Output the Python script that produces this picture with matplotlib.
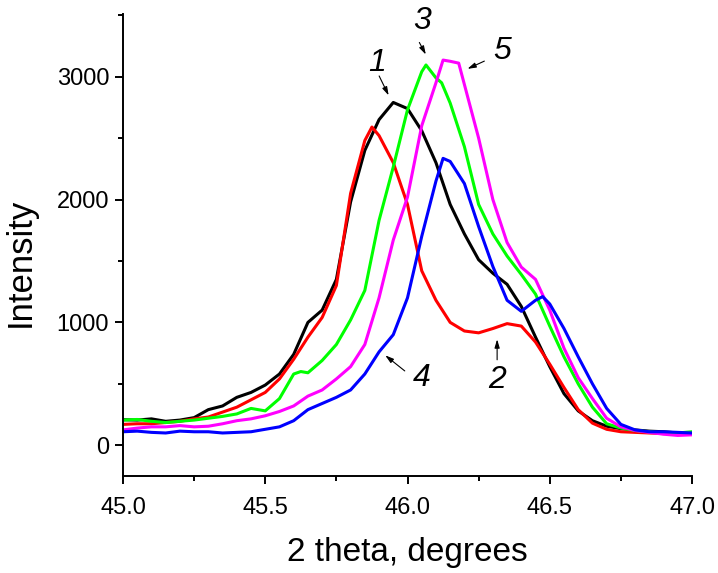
import matplotlib
matplotlib.use("Agg")
import matplotlib.pyplot as plt
from matplotlib.ticker import MultipleLocator

plt.rcParams['font.family'] = ['Liberation Sans', 'DejaVu Sans']

# Data
x1 = [45.00, 45.05, 45.10, 45.15, 45.20, 45.25, 45.30, 45.35, 45.40, 45.45,
      45.50, 45.55, 45.60, 45.65, 45.70, 45.75, 45.80, 45.85, 45.90, 45.95,
      46.00, 46.05, 46.10, 46.15, 46.20, 46.25, 46.30, 46.35, 46.40, 46.45,
      46.50, 46.55, 46.60, 46.65, 46.70, 46.75, 46.80, 46.85, 46.90, 46.95, 47.00]
y1 = [208, 205, 215, 195, 205, 225, 290, 320, 390, 430,
      490, 580, 740, 1000, 1100, 1350, 1980, 2400, 2650, 2790,
      2740, 2560, 2300, 1960, 1720, 1510, 1400, 1310, 1130, 880,
      640, 420, 280, 200, 155, 135, 125, 115, 110, 100, 100]

x2 = [45.00, 45.05, 45.10, 45.15, 45.20, 45.25, 45.30, 45.35, 45.40, 45.45,
      45.50, 45.55, 45.60, 45.65, 45.70, 45.75, 45.80, 45.85, 45.875, 45.90,
      45.95, 46.00, 46.05, 46.10, 46.15, 46.20, 46.25, 46.30, 46.35, 46.40,
      46.45, 46.50, 46.55, 46.60, 46.65, 46.70, 46.75, 46.80, 46.85, 46.90,
      46.95, 47.00]
y2 = [170, 175, 175, 185, 195, 215, 230, 270, 310, 370,
      430, 540, 700, 880, 1040, 1300, 2050, 2480, 2590, 2520,
      2300, 1960, 1420, 1180, 1000, 930, 915, 950, 990, 970,
      840, 660, 470, 290, 180, 130, 110, 105, 100, 95,
      95, 90]

x3 = [45.00, 45.05, 45.10, 45.15, 45.20, 45.25, 45.30, 45.35, 45.40, 45.45,
      45.50, 45.55, 45.60, 45.625, 45.65, 45.70, 45.75, 45.80, 45.85, 45.90,
      45.95, 46.00, 46.05, 46.065, 46.10, 46.12, 46.15, 46.20, 46.25, 46.30,
      46.35, 46.40, 46.45, 46.50, 46.55, 46.60, 46.65, 46.70, 46.75, 46.80,
      46.85, 46.90, 46.95, 47.00]
y3 = [205, 210, 195, 185, 195, 205, 220, 235, 255, 300,
      280, 380, 580, 600, 590, 690, 820, 1020, 1260, 1830,
      2265, 2730, 3040, 3095, 2990, 2950, 2785, 2430, 1960, 1720,
      1540, 1390, 1230, 970, 720, 500, 310, 175, 140, 120,
      110, 100, 100, 110]

x4 = [45.00, 45.05, 45.10, 45.15, 45.20, 45.25, 45.30, 45.35, 45.40, 45.45,
      45.50, 45.55, 45.60, 45.65, 45.70, 45.75, 45.80, 45.85, 45.90, 45.95,
      46.00, 46.05, 46.10, 46.125, 46.15, 46.20, 46.25, 46.30, 46.35, 46.40,
      46.45, 46.475, 46.50, 46.55, 46.60, 46.65, 46.70, 46.75, 46.80, 46.85,
      46.90, 46.95, 47.00]
y4 = [110, 115, 105, 100, 115, 110, 110, 100, 105, 110,
      130, 150, 200, 290, 340, 390, 450, 580, 760, 900,
      1200, 1700, 2150, 2335, 2310, 2130, 1780, 1455, 1180, 1090,
      1180, 1210, 1150, 950, 720, 500, 300, 170, 125, 110,
      110, 105, 100]

x5 = [45.00, 45.05, 45.10, 45.15, 45.20, 45.25, 45.30, 45.35, 45.40, 45.45,
      45.50, 45.55, 45.60, 45.65, 45.70, 45.75, 45.80, 45.85, 45.90, 45.95,
      46.00, 46.05, 46.10, 46.125, 46.15, 46.18, 46.25, 46.30, 46.35, 46.40,
      46.45, 46.50, 46.55, 46.60, 46.65, 46.70, 46.75, 46.80, 46.85, 46.90,
      46.95, 47.00]
y5 = [125, 140, 150, 150, 160, 150, 155, 175, 200, 215,
      240, 275, 320, 400, 450, 540, 640, 820, 1200, 1670,
      2020, 2600, 2950, 3135, 3125, 3110, 2500, 2000, 1650, 1450,
      1350, 1100, 790, 550, 380, 220, 150, 120, 105, 90,
      80, 85]

# curve number labels: (text, text pos, arrow tail, arrow tip)
labels = [
    ("1", (45.893, 3111), (45.896, 3026), (45.938, 2827)),
    ("2", (46.315, 534), (46.315, 673), (46.315, 885)),
    ("3", (46.051, 3453), (46.037, 3298), (46.069, 3160)),
    ("4", (46.051, 551), (45.998, 591), (45.914, 746)),
    ("5", (46.332, 3209), (46.279, 3136), (46.202, 3054)),
]

fig = plt.figure(figsize=(7.18, 5.73), dpi=100)
ax = fig.add_axes([0.1713, 0.1693, 0.7925, 0.8063])

lw = 2.2
ax.plot(x1, y1, color='black', lw=lw)
ax.plot(x2, y2, color='red', lw=lw)
ax.plot(x3, y3, color='#00ff00', lw=lw)
ax.plot(x5, y5, color='magenta', lw=lw)
ax.plot(x4, y4, color='blue', lw=lw)

for txt, tpos, tail, tip in labels:
    ax.text(tpos[0], tpos[1], txt, fontsize=23, style='italic',
            ha='center', va='center')
    ax.annotate('', xy=tip, xytext=tail,
                arrowprops=dict(arrowstyle='-|>,head_length=0.5,head_width=0.15',
                                color='black', lw=0.8))

ax.set_xlim(45.0, 47.0)
ax.set_ylim(-250, 3510)
ax.xaxis.set_major_locator(MultipleLocator(0.5))
ax.xaxis.set_minor_locator(MultipleLocator(0.25))
ax.yaxis.set_major_locator(MultipleLocator(1000))
ax.yaxis.set_minor_locator(MultipleLocator(500))
ax.xaxis.set_major_formatter(plt.FormatStrFormatter('%.1f'))

for s in ['top', 'right']:
    ax.spines[s].set_visible(False)
for s in ['left', 'bottom']:
    ax.spines[s].set_linewidth(1.4)

ax.tick_params(which='major', direction='out', length=6, width=1.4, labelsize=17)
ax.tick_params(which='minor', direction='out', length=3.5, width=1.4)
ax.tick_params(axis='x', pad=9)
ax.tick_params(axis='y', pad=4)

ax.set_xlabel("2 theta, degrees", fontsize=24)
ax.set_ylabel("Intensity", fontsize=25)
ax.xaxis.set_label_coords(0.5, -0.132)
ax.yaxis.set_label_coords(-0.152, 0.463)

fig.savefig("out.png", dpi=100)
